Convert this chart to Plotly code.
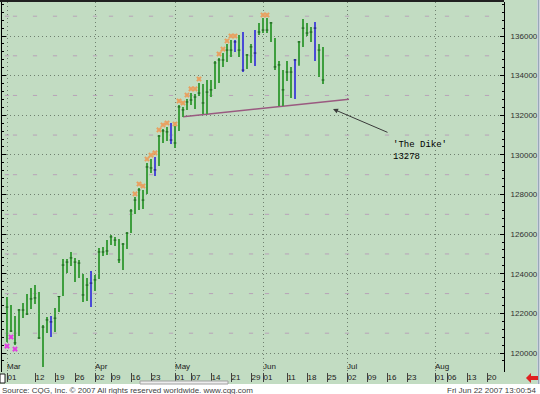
import plotly.graph_objects as go
import pandas as pd

# ---------------- data ----------------
highs = [122830, 122420, 121870, 122220, 122520, 122980, 123280, 123430, 123080, 121410,
         121820, 121870, 122270, 122880, 124750, 124750, 125100, 124800, 124700, 123990,
         123790, 124140, 123940, 125300, 125350, 125700, 125960, 125860, 125760, 125550,
         126110, 127270, 127870, 128330, 128230, 129590, 129790, 129890, 131000, 131310,
         131410, 131610, 131460, 132520, 132420, 132820, 133120, 133070, 133630, 133580,
         133780, 133780, 134740, 134890, 135140, 135600, 135800, 135800, 136050, 136200,
         135090, 135600, 136300, 136660, 136910, 136910, 136710, 135900, 134740, 134280,
         134740, 134440, 134840, 135750, 136860, 136660, 136450, 136710, 135600, 135450]
lows = [120560, 121060, 120400, 120860, 121770, 121920, 122220, 122470, 120710, 119290,
        121010, 120810, 121060, 122070, 122880, 124040, 124390, 123590, 123790, 122580,
        122630, 122320, 123130, 123740, 124900, 124950, 125450, 125400, 124540, 124190,
        125250, 126060, 127020, 127220, 127270, 128030, 129090, 128930, 129440, 130600,
        130700, 130550, 130350, 131210, 131910, 132270, 132520, 132320, 132970, 132060,
        132060, 132920, 133330, 133630, 134440, 134690, 134940, 135190, 134940, 134180,
        134330, 134640, 134490, 136050, 136150, 136150, 135700, 134280, 132470, 132470,
        133730, 132870, 132820, 134500, 135450, 136000, 135700, 134740, 133930, 133580]
closes = [122320, 121110, 120510, 122170, 122170, 121970, 122730, 122780, 120760, 121310,
          121670, 121570, 121760, 122850, 124440, 124590, 124800, 124590, 124540, 122930,
          123430, 123530, 123690, 125100, 125100, 125150, 125860, 125700, 124700, 125500,
          126050, 127170, 127720, 128230, 127720, 129390, 129340, 129240, 130950, 131210,
          131160, 130750, 130600, 132420, 132270, 132670, 132770, 132920, 133120, 132620,
          133170, 133280, 134640, 134790, 134790, 135290, 135290, 135700, 135290, 134280,
          135040, 135450, 135140, 136200, 136300, 136300, 136660, 134440, 134540, 133280,
          134180, 134180, 134790, 135700, 136400, 136150, 136200, 136400, 135290, 133780]
blue_bars = [11, 21, 37, 41, 57, 59, 62, 72, 77]

high_mark_idx = [32, 33, 34, 35, 36, 37, 38, 39, 40, 42, 43, 44, 45, 46, 47, 48,
                 53, 54, 55, 56, 57, 64, 65]
high_mark_val = [128030, 128530, 128430, 129790, 129990, 130100, 131260, 131510, 131610,
                 131560, 132720, 132620, 133020, 133330, 133330, 133830, 135090, 135340,
                 135750, 136000, 136000, 137060, 137060]
low_mark_idx = [0, 1, 2]
low_mark_val = [120350, 120810, 120200]

dike_idx = [44, 85.5]
dike_val = [131927, 132810]
dike_label = "13278"

holidays = ["2007-04-06", "2007-05-28"]
date_ticks = ["2007-03-01", "2007-03-12", "2007-03-19", "2007-03-26",
              "2007-04-02", "2007-04-09", "2007-04-16", "2007-04-23",
              "2007-05-01", "2007-05-07", "2007-05-14", "2007-05-21", "2007-05-29",
              "2007-06-01", "2007-06-11", "2007-06-18", "2007-06-25",
              "2007-07-02", "2007-07-09", "2007-07-16", "2007-07-23",
              "2007-08-01", "2007-08-06", "2007-08-13", "2007-08-20"]
month_labels = ["Mar", "Apr", "May", "Jun", "Jul", "Aug"]
month_starts = ["2007-03-01", "2007-04-02", "2007-05-01", "2007-06-01", "2007-07-02", "2007-08-01"]
y_ticks = list(range(120000, 136001, 2000))
minor_levels = list(range(121000, 137001, 2000))

footer_left = "Source: CQG, Inc. © 2007 All rights reserved worldwide. www.cqg.com"
footer_right = "Fri Jun 22 2007 13:00:54"

# ---------------- axis positions (trading-day index) ----------------
hol = set(pd.to_datetime(holidays))
hist = [d for d in pd.bdate_range("2007-03-01", "2007-06-22") if d not in hol]
future = list(pd.bdate_range("2007-06-25", "2007-08-31"))
axis_dates = hist + future
pos = {d.strftime("%Y-%m-%d"): i for i, d in enumerate(axis_dates)}

tick_pos = [pos[d] for d in date_ticks]
tick_txt = [d[-2:] for d in date_ticks]
month_pos = [pos[d] for d in month_starts]

week_starts = [i for i, d in enumerate(axis_dates)
               if i == 0 or d.weekday() < axis_dates[i - 1].weekday()]

# ---------------- colours ----------------
BG = "#c2dcc2"
GREEN = "#3e9e3e"
BLUE = "#4a4ad6"
GRID = "#6f806f"

# ---------------- figure ----------------
fig = go.Figure()

# minor level dashes
mx, my = [], []
for lv in minor_levels:
    for w in week_starts:
        mx.append(w)
        my.append(lv)
fig.add_trace(go.Scatter(x=mx, y=my, mode="markers", hoverinfo="skip",
                         marker=dict(symbol="line-ew", size=3,
                                     line=dict(width=1, color="#b8a2b8")),
                         showlegend=False))

# dike trendline
fig.add_trace(go.Scatter(x=dike_idx, y=dike_val, mode="lines",
                         line=dict(color="#9a5a80", width=1.5), showlegend=False))


def segs(idx):
    xs, ys = [], []
    for i in idx:
        xs += [i, i, None]
        ys += [lows[i], highs[i], None]
    return xs, ys


n = len(highs)
green_idx = [i for i in range(n) if i not in blue_bars]
gx, gy = segs(green_idx)
bx, by = segs(blue_bars)
fig.add_trace(go.Scatter(x=gx, y=gy, mode="lines", line=dict(color=GREEN, width=2),
                         showlegend=False, hoverinfo="skip"))
fig.add_trace(go.Scatter(x=bx, y=by, mode="lines", line=dict(color=BLUE, width=2),
                         showlegend=False, hoverinfo="skip"))
fig.add_trace(go.Scatter(x=green_idx, y=[closes[i] for i in green_idx], mode="markers",
                         marker=dict(symbol="line-ew", size=2,
                                     line=dict(width=1, color="#1c5a1c")),
                         showlegend=False))
fig.add_trace(go.Scatter(x=blue_bars, y=[closes[i] for i in blue_bars], mode="markers",
                         marker=dict(symbol="line-ew", size=2,
                                     line=dict(width=1, color="#1c1c70")),
                         showlegend=False))

# pattern markers
fig.add_trace(go.Scatter(x=high_mark_idx, y=high_mark_val, mode="markers",
                         marker=dict(symbol="x", size=5, color="#e8a060",
                                     line=dict(width=0)),
                         showlegend=False))
fig.add_trace(go.Scatter(x=low_mark_idx, y=low_mark_val, mode="markers",
                         marker=dict(symbol="x", size=5, color="#e040e0",
                                     line=dict(width=0)),
                         showlegend=False))

# dummy trace for month axis
fig.add_trace(go.Scatter(x=[0], y=[None], xaxis="x2", mode="markers", showlegend=False))

# ---------------- layout ----------------
PL, PT, PW, PH = 2, 2, 502, 370
W, H = 540, 394


def pxx(p):
    return (p - PL) / PW


def pxy(p):
    return (PT + PH - p) / PH


xr = [-1.25, 124.25]
yr = [119042, 137716]

fig.update_layout(
    width=W, height=H, autosize=False,
    margin=dict(l=PL, r=W - PL - PW, t=PT, b=H - PT - PH, pad=0),
    paper_bgcolor="white", plot_bgcolor="rgba(0,0,0,0)",
    font=dict(family="Liberation Sans, Arial", size=8, color="#303030"),
    showlegend=False,
    xaxis=dict(range=xr, tickmode="array", tickvals=tick_pos, ticktext=tick_txt,
               ticks="outside", ticklen=9, tickwidth=1, tickcolor="#404040",
               tickangle=0, automargin=False,
               ticklabelposition="outside right", ticklabelstandoff=-3,
               showgrid=False, zeroline=False, showline=False,
               tickfont=dict(size=8, color="#202020")),
    xaxis2=dict(range=xr, overlaying="x", anchor="y", side="bottom",
                tickmode="array", tickvals=month_pos, ticktext=month_labels,
                ticks="", ticklabelposition="inside right", ticklabelstandoff=-5,
                tickangle=0, automargin=False,
                showgrid=True, gridcolor=GRID, griddash="1px,3px", gridwidth=1,
                zeroline=False, showline=False,
                tickfont=dict(size=8, color="#202020")),
    yaxis=dict(range=yr, side="right", tickmode="array", tickvals=y_ticks,
               tickformat="d", ticks="inside", ticklen=4, tickcolor="black",
               showline=True, linecolor="black", linewidth=1, mirror="ticks",
               showgrid=True, gridcolor=GRID, griddash="1px,3px", gridwidth=1,
               zeroline=False, ticklabelstandoff=4, automargin=False,
               minor=dict(tickmode="linear", tick0=120000, dtick=400, ticks="inside",
                          ticklen=2, tickcolor="black", showgrid=False),
               tickfont=dict(size=8, color="#303030")),
)

shapes = [
    dict(type="rect", xref="paper", yref="paper", x0=pxx(0), x1=pxx(537),
         y0=pxy(384), y1=pxy(0), fillcolor=BG, line=dict(width=0), layer="below"),
    dict(type="line", xref="paper", yref="paper", x0=pxx(0), x1=pxx(504),
         y0=pxy(1), y1=pxy(1), line=dict(color="#202020", width=2)),
    dict(type="line", xref="paper", yref="paper", x0=pxx(538.5), x1=pxx(538.5),
         y0=pxy(384), y1=pxy(0), line=dict(color="#98a8b8", width=2)),
    dict(type="rect", xref="paper", yref="paper", x0=pxx(0), x1=pxx(5),
         y0=pxy(383), y1=pxy(374), fillcolor="white", line=dict(color="#202020", width=1)),
    dict(type="rect", xref="paper", yref="paper", x0=pxx(140), x1=pxx(228),
         y0=pxy(384), y1=pxy(381), fillcolor="#ececec", line=dict(color="#a0a0a0", width=1)),
]
# red arrow icon
pts = [(526, 378), (531, 373), (531, 376), (538, 376), (538, 380), (531, 380), (531, 383)]
path = "M " + " L ".join(f"{pxx(a):.5f},{pxy(b):.5f}" for a, b in pts) + " Z"
shapes.append(dict(type="path", xref="paper", yref="paper", path=path,
                   fillcolor="#e02020", line=dict(width=0)))
fig.update_layout(shapes=shapes)

annotations = [
    dict(x=81.5, y=132316, ax=95.5, ay=131105, xref="x", yref="y", axref="x", ayref="y",
         text="", showarrow=True, arrowhead=2, arrowsize=1, arrowwidth=1,
         arrowcolor="#3a3a3a"),
    dict(x=96, y=130850, xref="x", yref="y", xanchor="left", yanchor="top",
         text="'The Dike'<br>" + dike_label, showarrow=False, align="left",
         font=dict(family="Liberation Mono, Courier New, monospace", size=9, color="black")),
    dict(x=pxx(0), y=pxy(384), xref="paper", yref="paper", xanchor="left", yanchor="top",
         text=footer_left, showarrow=False,
         font=dict(size=8, color="#404040")),
    dict(x=pxx(539), y=pxy(384), xref="paper", yref="paper", xanchor="right", yanchor="top",
         text=footer_right, showarrow=False,
         font=dict(size=8, color="#404040")),
]
fig.update_layout(annotations=annotations)

fig.write_html("out.html", config={"displayModeBar": False},
               post_script="document.body.style.margin='0px';document.body.style.padding='0px';")
